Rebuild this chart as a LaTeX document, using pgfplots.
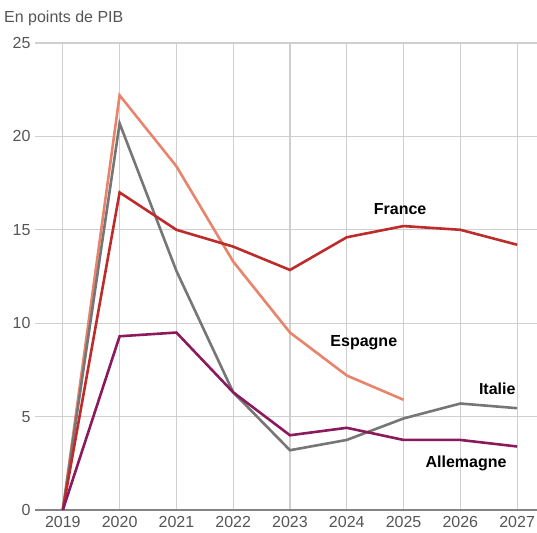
\documentclass[border=0pt]{standalone}
\usepackage{fontspec}
\setmainfont{Liberation Sans}
\usepackage{pgfplots}
\pgfplotsset{compat=1.18}
\definecolor{cFrance}{HTML}{BE2B2B}
\definecolor{cEspagne}{HTML}{E8846C}
\definecolor{cItalie}{HTML}{767676}
\definecolor{cAllemagne}{HTML}{8A1A5C}
\definecolor{cGrid}{HTML}{CFCFCF}
\definecolor{cText}{HTML}{555555}
\begin{document}
\begin{tikzpicture}
\begin{axis}[
  scale only axis,
  width=502pt, height=467pt,
  xmin=2018.51, xmax=2027.35,
  ymin=0, ymax=25,
  xtick={2019,2020,2021,2022,2023,2024,2025,2026,2027},
  ytick={0,5,10,15,20,25},
  xticklabel style={/pgf/number format/1000 sep={}},
  /pgf/number format/assume math mode=true,
  tick label style={font=\fontsize{16pt}{18pt}\selectfont, text=cText},
  yticklabel style={anchor=east, xshift=-1pt},
  xticklabel style={anchor=north, inner sep=0pt, yshift=-6pt},
  major tick length=0pt,
  axis line style={draw=none},
  xmajorgrids, ymajorgrids,
  grid style={cGrid, line width=1.2pt},
  clip=false,
]
\coordinate (bl) at (rel axis cs:0,0);
\coordinate (tr) at (rel axis cs:1,1);
\draw[cItalie!90, line width=2pt] (axis cs:2018.51,0) -- (axis cs:2027.35,0);
\addplot[cEspagne, line width=2.6pt] coordinates {
 (2019,0) (2020,22.2) (2021,18.4) (2022,13.3) (2023,9.5) (2024,7.2) (2025,5.9)};
\addplot[cItalie, line width=2.6pt] coordinates {
 (2019,0) (2020,20.7) (2021,12.8) (2022,6.3) (2023,3.2) (2024,3.75) (2025,4.9) (2026,5.7) (2027,5.45)};
\addplot[cFrance, line width=2.6pt] coordinates {
 (2019,0) (2020,17.0) (2021,15.0) (2022,14.1) (2023,12.85) (2024,14.6) (2025,15.2) (2026,15.0) (2027,14.2)};
\addplot[cAllemagne, line width=2.6pt] coordinates {
 (2019,0) (2020,9.3) (2021,9.5) (2022,6.3) (2023,4.0) (2024,4.4) (2025,3.75) (2026,3.75) (2027,3.4)};
\node[font=\bfseries\fontsize{16pt}{18pt}\selectfont] at (axis cs:2024.94,16.1) {France};
\node[font=\bfseries\fontsize{16pt}{18pt}\selectfont] at (axis cs:2024.3,8.95) {Espagne};
\node[font=\bfseries\fontsize{16pt}{18pt}\selectfont] at (axis cs:2026.65,6.5) {Italie};
\node[font=\bfseries\fontsize{16pt}{18pt}\selectfont] at (axis cs:2026.1,2.5) {Allemagne};
\end{axis}
\node[anchor=base west, text=cText, font=\fontsize{16pt}{18pt}\selectfont, inner sep=0pt] at ([xshift=-31pt,yshift=20pt]tr -| bl) {En points de PIB};
\pgfresetboundingbox
\path ([xshift=-35pt,yshift=-22pt]bl) rectangle ([yshift=43pt]tr);
\end{tikzpicture}
\end{document}
